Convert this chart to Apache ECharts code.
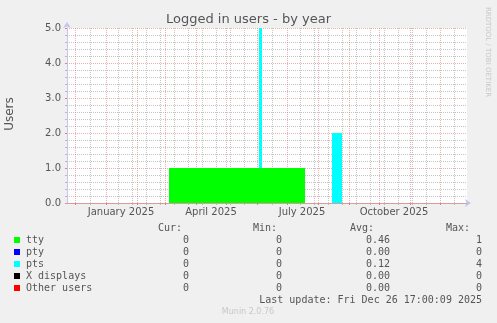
<!DOCTYPE html>
<html>
<head>
<meta charset="utf-8">
<script src="https://cdn.jsdelivr.net/npm/echarts@6/dist/echarts.min.js"></script>
<style>
html,body{margin:0;padding:0;background:#f0f0f0;}
#c{width:497px;height:323px;}
</style>
</head>
<body>
<div id="c"></div>
<script>
// ---- data (x = days since start of the 400-day window) ----
var breakDays = [0, 102, 192, 195, 238, 265, 275, 400];
var ttyVals   = [0, 1, 1, 1, 0, 0, 0, 0];
var ptyVals   = [0, 0, 0, 0, 0, 0, 0, 0];
var ptsVals   = [0, 0, 4, 0, 0, 2, 0, 0];
var xdispVals = [0, 0, 0, 0, 0, 0, 0, 0];
var otherVals = [0, 0, 0, 0, 0, 0, 0, 0];

var monthDays  = [8, 39, 70, 98, 129, 159, 190, 220, 251, 282, 312, 343, 373];
var minorDays  = [23, 51, 65, 79, 93, 107, 121, 135, 149, 163, 177, 205, 233, 247, 261, 275, 289, 303, 317, 331, 345, 359, 387];
var labelDays  = [54, 144, 235, 327];
var labelNames = ['January 2025', 'April 2025', 'July 2025', 'October 2025'];
var yTicks     = [0, 1, 2, 3, 4, 5];

var seriesNames  = ['tty', 'pty', 'pts', 'X displays', 'Other users'];
var seriesColors = ['#00ff00', '#0000ff', '#00ffff', '#000000', '#ff0000'];
var curVals = ['0', '0', '0', '0', '0'];
var minVals = ['0', '0', '0', '0', '0'];
var avgVals = ['0.46', '0.00', '0.12', '0.00', '0.00'];
var maxVals = ['1', '0', '4', '0', '0'];
var lastUpdate = 'Last update: Fri Dec 26 17:00:09 2025';

var allVals = [ttyVals, ptyVals, ptsVals, xdispVals, otherVals];

var majorColor = 'rgba(215,100,100,0.5)';
var minorColor = 'rgba(140,140,140,0.5)';

// cumulative (stacked) tops, computed from the arrays above
var cum = [];
allVals.forEach(function(vals, i){
  cum.push(vals.map(function(v, j){ return v + (i > 0 ? cum[i-1][j] : 0); }));
});
function pairs(vals){ return breakDays.map(function(d,i){ return [d, vals[i]]; }); }

var series = [];
var ml = [];
monthDays.forEach(function(d){ ml.push({xAxis:d, lineStyle:{color:majorColor, type:[1,1], width:1}}); });
minorDays.forEach(function(d){ ml.push({xAxis:d, lineStyle:{color:minorColor, type:[1,1], width:1}}); });
series.push({
  type:'line', data:[[0,0]], showSymbol:false, silent:true, z:1,
  lineStyle:{opacity:0},
  markLine:{silent:true, z:1, symbol:['none','none'], label:{show:false}, animation:false, data:ml}
});
// draw from the top of the stack down so lower layers cover upper ones
for (var i = seriesNames.length - 1; i >= 0; i--) {
  series.push({
    name:seriesNames[i], type:'line', step:'end', data:pairs(cum[i]),
    showSymbol:false, silent:true, z:3,
    lineStyle:{width:0, opacity:0},
    areaStyle:{color:seriesColors[i], opacity:1, origin:'start'},
    itemStyle:{color:seriesColors[i]}
  });
}

var g = [];
g.push({type:'text', left:'center', top:13, style:{text:'Logged in users - by year', font:'13px "DejaVu Sans"', fill:'#555'}});
g.push({type:'text', x:10, y:114, rotation:Math.PI/2, style:{text:'Users', font:'12px "DejaVu Sans"', fill:'#555', align:'center', verticalAlign:'middle'}});
g.push({type:'text', x:488, y:52, rotation:-Math.PI/2, style:{text:'RRDTOOL / TOBI OETIKER', font:'7px "DejaVu Sans"', fill:'#c8c8c8', align:'center', verticalAlign:'middle'}});
var hdrY = 228;
[['Cur:',182],['Min:',277],['Avg:',374],['Max:',470]].forEach(function(h){
  g.push({type:'text', x:h[1], y:hdrY, style:{text:h[0], font:'10px "DejaVu Sans Mono"', fill:'#555', align:'right', verticalAlign:'middle'}});
});
var rowY = [240, 252, 264, 276, 288];
seriesNames.forEach(function(n,i){
  var y = rowY[i];
  g.push({type:'rect', shape:{x:14, y:y-3, width:6, height:6}, style:{fill:seriesColors[i]}});
  g.push({type:'text', x:26, y:y, style:{text:n, font:'10px "DejaVu Sans Mono"', fill:'#555', align:'left', verticalAlign:'middle'}});
  g.push({type:'text', x:189, y:y, style:{text:curVals[i], font:'10px "DejaVu Sans Mono"', fill:'#555', align:'right', verticalAlign:'middle'}});
  g.push({type:'text', x:282, y:y, style:{text:minVals[i], font:'10px "DejaVu Sans Mono"', fill:'#555', align:'right', verticalAlign:'middle'}});
  g.push({type:'text', x:390, y:y, style:{text:avgVals[i], font:'10px "DejaVu Sans Mono"', fill:'#555', align:'right', verticalAlign:'middle'}});
  g.push({type:'text', x:482, y:y, style:{text:maxVals[i], font:'10px "DejaVu Sans Mono"', fill:'#555', align:'right', verticalAlign:'middle'}});
});
g.push({type:'text', x:482, y:300, style:{text:lastUpdate, font:'10px "DejaVu Sans Mono"', fill:'#555', align:'right', verticalAlign:'middle'}});
g.push({type:'text', x:248, y:312, style:{text:'Munin 2.0.76', font:'8px "DejaVu Sans"', fill:'#c8c8c8', align:'center', verticalAlign:'middle'}});

var chart = echarts.init(document.getElementById('c'), null, {renderer:'canvas'});
chart.setOption({
  animation:false,
  backgroundColor:'#f0f0f0',
  grid:{left:67, right:30, top:28, bottom:120, show:true, backgroundColor:'#ffffff', borderWidth:0},
  xAxis:[{
    type:'value', min:0, max:400, z:3,
    axisLine:{show:true, onZero:false, lineStyle:{color:'#dc9a9a', width:1}},
    axisTick:{show:true, customValues:monthDays, length:2, lineStyle:{color:'#e08080'}},
    axisLabel:{show:true, customValues:labelDays, margin:4, fontFamily:'DejaVu Sans', fontSize:10, color:'#555',
      formatter:function(v){ var k = labelDays.indexOf(v); return k>=0 ? labelNames[k] : ''; }},
    splitLine:{show:false}
  },{
    type:'value', min:0, max:400, position:'bottom', z:2,
    axisLine:{show:true, onZero:false, symbol:['none','arrow'], symbolSize:[6,6], symbolOffset:[0,4], lineStyle:{color:'#c4c4f0', width:1}},
    axisTick:{show:true, customValues:minorDays, length:2, lineStyle:{color:'#bbbbbb'}},
    axisLabel:{show:false},
    splitLine:{show:false}
  }],
  yAxis:{
    type:'value', min:0, max:5, interval:1,
    axisLine:{show:true, symbol:['none','arrow'], symbolSize:[6,6], symbolOffset:[0,6], lineStyle:{color:'#c4c4f0', width:1}},
    axisTick:{show:true, length:2, lineStyle:{color:'#e08080'}},
    minorTick:{show:true, splitNumber:5, length:2, lineStyle:{color:'#bbbbbb'}},
    axisLabel:{margin:6, fontFamily:'DejaVu Sans', fontSize:10, color:'#555', customValues:yTicks,
      formatter:function(v){ return v.toFixed(1); }},
    splitLine:{show:true, lineStyle:{color:majorColor, type:[1,1], width:1}},
    minorSplitLine:{show:true, lineStyle:{color:minorColor, type:[1,1], width:1}}
  },
  series:series,
  graphic:g
});
</script>
</body>
</html>
